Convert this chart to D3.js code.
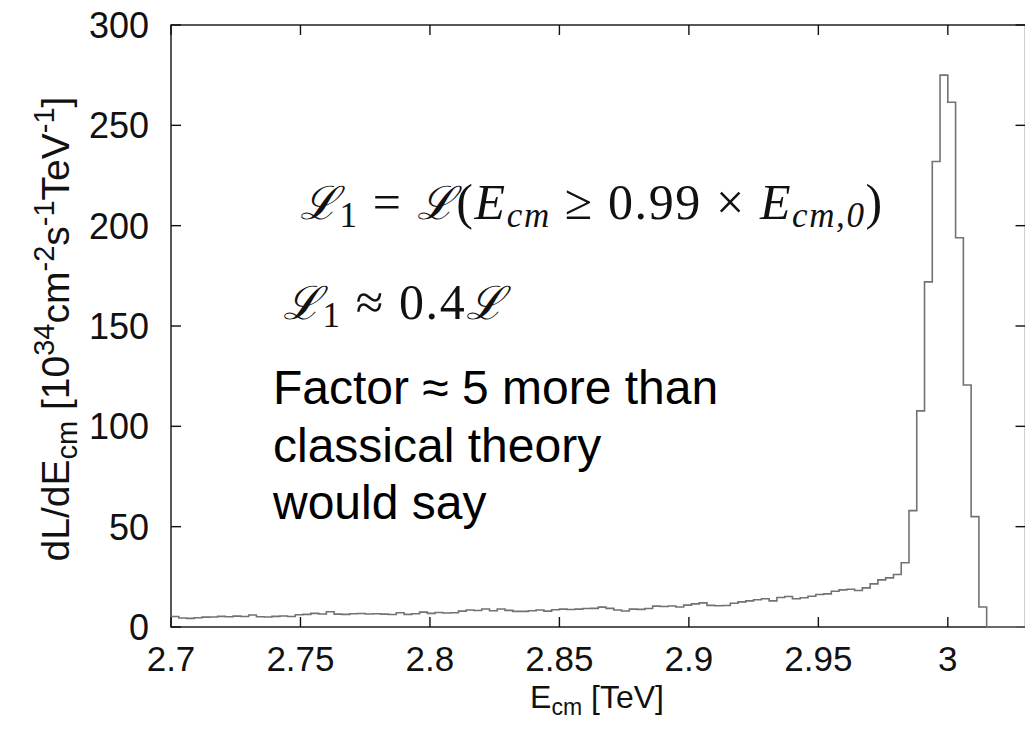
<!DOCTYPE html>
<html>
<head>
<meta charset="utf-8">
<script src="https://cdn.jsdelivr.net/npm/d3@7"></script>
<style>
  html, body { margin: 0; padding: 0; background: #fff; }
  svg { display: block; }
</style>
</head>
<body>
<svg id="chart" width="1025" height="735"></svg>
<script>
// ---- data ----
const binStart = 2.7;      // TeV, left edge of first bin
const binWidth = 0.003;    // TeV
const lumiValues = [
  5.2, 4.5, 4.3, 4.6, 4.9, 5.0, 5.3, 5.1, 5.4, 5.2, 6.0, 5.1, 5.0, 5.3, 5.5, 5.2, 6.1,
  6.3, 6.8, 6.5, 7.6, 6.4, 6.3, 6.6, 6.7, 6.5, 6.6, 6.4, 6.2, 7.1, 6.3, 6.6, 7.4, 6.8,
  7.2, 7.0, 7.1, 7.9, 8.5, 8.2, 9.0, 8.1, 9.0, 8.3, 7.8, 7.8, 8.1, 8.5, 7.9, 8.6, 8.9,
  8.7, 8.9, 9.2, 9.3, 9.9, 9.3, 8.5, 8.0, 8.9, 8.8, 9.2, 10.4, 10.2, 10.5, 10.0, 10.9,
  11.5, 12.0, 10.8, 10.6, 10.7, 11.8, 12.5, 13.0, 13.6, 14.1, 13.0, 14.7, 15.2, 14.1, 14.6, 15.3, 16.2,
  16.5, 17.8, 18.5, 18.8, 18.2, 19.5, 21.5, 23.5, 24.5, 26.2,
  32, 58, 107.7, 172, 232, 275, 261.5, 194, 120.6, 55, 10,
  0, 0, 0, 0, 0
];
const xTicks = [2.7, 2.75, 2.8, 2.85, 2.9, 2.95, 3.0];
const xTickLabels = ["2.7", "2.75", "2.8", "2.85", "2.9", "2.95", "3"];
const yTicks = [0, 50, 100, 150, 200, 250, 300];
const xDomain = [2.7, 3.03];
const yDomain = [0, 300];

// ---- layout ----
const svg = d3.select("#chart");
const pL = 171, pR = 1025.5, pT = 25, pB = 627;
const x = d3.scaleLinear().domain(xDomain).range([pL, pR]);
const y = d3.scaleLinear().domain(yDomain).range([pB, pT]);
const tickFont = "'Liberation Sans', Arial, sans-serif";

// frame
svg.append("rect")
  .attr("x", pL).attr("y", pT)
  .attr("width", pR - pL).attr("height", pB - pT)
  .attr("fill", "none").attr("stroke", "#111").attr("stroke-width", 1.4);

// ticks (inward, mirrored)
const tl = 10;
const g = svg.append("g").attr("stroke", "#111").attr("stroke-width", 1.4);
xTicks.forEach(t => {
  g.append("line").attr("x1", x(t)).attr("x2", x(t)).attr("y1", pB).attr("y2", pB - tl);
  g.append("line").attr("x1", x(t)).attr("x2", x(t)).attr("y1", pT).attr("y2", pT + tl);
});
yTicks.forEach(t => {
  g.append("line").attr("x1", pL).attr("x2", pL + tl).attr("y1", y(t)).attr("y2", y(t));
  g.append("line").attr("x1", pR).attr("x2", pR - tl).attr("y1", y(t)).attr("y2", y(t));
});

// tick labels
svg.append("g").selectAll("text").data(xTicks).join("text")
  .attr("x", d => x(d)).attr("y", 671)
  .attr("text-anchor", "middle")
  .attr("font-family", tickFont).attr("font-size", 35).attr("fill", "#111")
  .text((d, i) => xTickLabels[i]);
svg.append("g").selectAll("text").data(yTicks).join("text")
  .attr("x", 149).attr("y", d => y(d)).attr("dy", "0.36em")
  .attr("text-anchor", "end")
  .attr("font-family", tickFont).attr("font-size", 36).attr("fill", "#111")
  .text(d => d);

// axis titles
const xt = svg.append("text").attr("x", 597).attr("y", 708)
  .attr("text-anchor", "middle").attr("font-family", tickFont).attr("font-size", 32).attr("fill", "#111");
xt.append("tspan").text("E");
xt.append("tspan").attr("font-size", 23).attr("dy", 7).text("cm");
xt.append("tspan").attr("dy", -7).text(" [TeV]");

const yt = svg.append("text")
  .attr("transform", "translate(69,329) rotate(-90)")
  .attr("text-anchor", "middle").attr("font-family", tickFont).attr("font-size", 39).attr("fill", "#111");
yt.append("tspan").text("dL/dE");
yt.append("tspan").attr("font-size", 29).attr("dy", 8).text("cm");
yt.append("tspan").attr("dy", -8).text(" [10");
yt.append("tspan").attr("font-size", 29).attr("dy", -15).text("34");
yt.append("tspan").attr("dy", 15).text("cm");
yt.append("tspan").attr("font-size", 29).attr("dy", -15).text("-2");
yt.append("tspan").attr("dy", 15).text("s");
yt.append("tspan").attr("font-size", 29).attr("dy", -15).text("-1");
yt.append("tspan").attr("dy", 15).text("TeV");
yt.append("tspan").attr("font-size", 29).attr("dy", -15).text("-1");
yt.append("tspan").attr("dy", 15).text("]");

// histogram (steps)
const pts = [];
lumiValues.forEach((v, i) => {
  const e0 = binStart + i * binWidth, e1 = e0 + binWidth;
  pts.push([e0, v], [e1, v]);
});
const line = d3.line().x(d => x(d[0])).y(d => y(d[1]));
svg.append("path").datum(pts)
  .attr("d", line)
  .attr("fill", "none").attr("stroke", "#727272").attr("stroke-width", 1.6);

// math annotations
const mathFont = "'Liberation Serif', 'DejaVu Serif', serif";
const calFont = "'DejaVu Serif', serif";
const fs = 50, sfs = 35, cfs = 46;
function calL(sel) {
  sel.append("tspan").attr("font-family", calFont).attr("font-style", "italic")
    .attr("font-size", cfs).text("ℒ");
}
const m1 = svg.append("text").attr("x", 300).attr("y", 219)
  .attr("font-family", mathFont).attr("font-size", fs).attr("fill", "#111")
  .attr("letter-spacing", 1.6);
calL(m1);
m1.append("tspan").attr("font-size", sfs).attr("dy", 8).text("1");
m1.append("tspan").attr("dy", -8).text(" = ");
calL(m1);
m1.append("tspan").text("(");
m1.append("tspan").attr("font-style", "italic").text("E");
m1.append("tspan").attr("font-size", sfs).attr("dy", 8).attr("font-style", "italic").text("cm");
m1.append("tspan").attr("dy", -8).text(" ≥ 0.99 × ");
m1.append("tspan").attr("font-style", "italic").text("E");
m1.append("tspan").attr("font-size", sfs).attr("dy", 8).attr("font-style", "italic").text("cm,0");
m1.append("tspan").attr("dy", -8).text(")");

const m2 = svg.append("text").attr("x", 283).attr("y", 319)
  .attr("font-family", mathFont).attr("font-size", fs).attr("fill", "#111")
  .attr("letter-spacing", 1.6);
calL(m2);
m2.append("tspan").attr("font-size", sfs).attr("dy", 8).text("1");
m2.append("tspan").attr("dy", -8).text(" ≈ 0.4");
calL(m2);

// plain-text note
const note = ["Factor ≈ 5 more than", "classical theory", "would say"];
svg.append("g").selectAll("text").data(note).join("text")
  .attr("x", 273).attr("y", (d, i) => 404 + i * 57.5)
  .attr("font-family", tickFont).attr("font-size", 48)
  .text(d => d);
</script>
</body>
</html>
